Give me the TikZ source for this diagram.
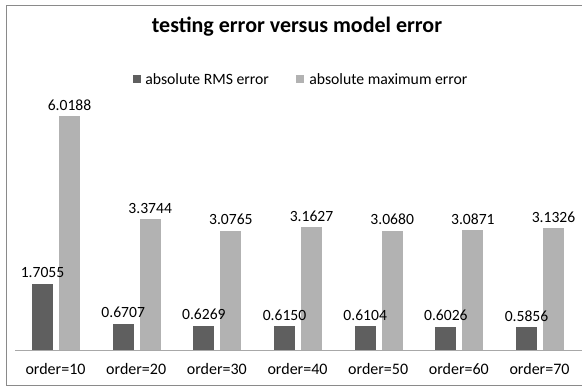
\documentclass[tikz,border=0pt]{standalone}
\usepackage{fontspec}
\setmainfont{Carlito}
\usepackage{tikz}
\definecolor{rmsgray}{HTML}{5F5F5F}
\definecolor{maxgray}{HTML}{B2B2B2}
\definecolor{framegray}{HTML}{8A8A8A}
\definecolor{axisgray}{HTML}{A8A8A8}

\begin{document}
\begin{tikzpicture}[x=0.75pt,y=-0.75pt]
\tikzstyle{every node}=[inner sep=0pt];
\tikzstyle{value}=[anchor=base,font=\fontsize{11.7}{14}\selectfont];
\tikzstyle{category}=[font=\fontsize{12}{14}\selectfont];
\tikzstyle{legend}=[anchor=west,font=\fontsize{11.8}{14}\selectfont];
\useasboundingbox (0,0) rectangle (582,386);
% frame and axis
\draw[framegray,line width=0.75pt] (582,5) -- (6,5) -- (6,385) -- (582,385);
\draw[axisgray,line width=0.75pt] (15,350) coordinate (axis west) -- (582,350) coordinate (axis east);
% title and legend
\node[font=\bfseries\fontsize{16.5}{19}\selectfont] (title) at (297,27) {testing error versus model error};
\fill[rmsgray] (133,75) rectangle (141,83);
\node[legend] (rms legend) at (145,79.5) {absolute RMS error};
\fill[maxgray] (296,75) rectangle (304,83);
\node[legend] (max legend) at (309,79.5) {absolute maximum error};
% bars
\foreach \rms/\mx/\ord [count=\i from 0] in {1.7055/6.0188/10,0.6707/3.3744/20,0.6269/3.0765/30,0.6150/3.1627/40,0.6104/3.0680/50,0.6026/3.0871/60,0.5856/3.1326/70}{
	\pgfmathsetmacro\cx{55.5+80.67*\i}
	\fill[rmsgray] (\cx-23.5,350) rectangle (\cx-2.5,350-\rms*38.8);
	\fill[maxgray] (\cx+3.5,350) rectangle (\cx+24.5,350-\mx*38.8);
	\node[value] (rms\ord) at (\cx-13,350-\rms*38.8-6) {\rms};
	\node[value] (max\ord) at (\cx+14,350-\mx*38.8-6) {\mx};
	\node[category] (order\ord) at (\cx,369) {order=\ord};
}
\end{tikzpicture}
\end{document}
